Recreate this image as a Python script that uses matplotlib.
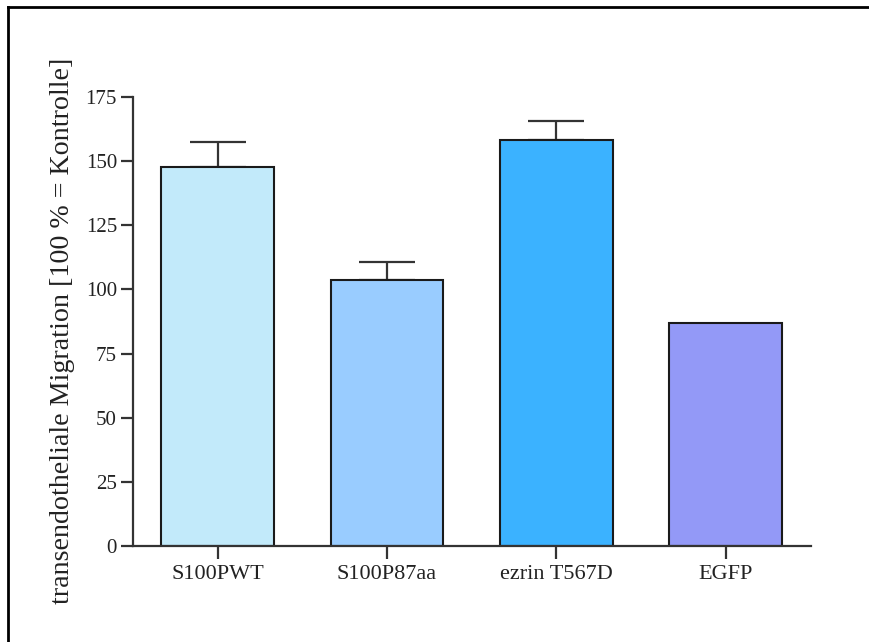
import matplotlib
matplotlib.use("Agg")
import matplotlib.pyplot as plt
from matplotlib.lines import Line2D

categories = ["S100PWT", "S100P87aa", "ezrin T567D", "EGFP"]
values = [147.6, 103.7, 158.2, 87.0]
errors = [9.7, 7.1, 7.5, 0.0]
colors = ["#C2EAFA", "#99CCFF", "#3BB2FF", "#9399F7"]
yticks = [0, 25, 50, 75, 100, 125, 150, 175]
ylabel = "transendotheliale Migration [100 % = Kontrolle]"

plt.rcParams['font.family'] = ['Liberation Serif', 'DejaVu Serif']

fig = plt.figure(figsize=(8.7, 6.42), dpi=100)
ax = fig.add_axes([133/870, 1-546/642, (810.5-133)/870, (546-97)/642])

x = list(range(len(categories)))
ax.bar(x, values, width=0.665, color=colors, edgecolor="#1a1a1a", linewidth=1.5, zorder=2)
for xi, v, e in zip(x, values, errors):
    if e > 0:
        ax.errorbar([xi], [v], yerr=[[0], [e]], fmt="none", ecolor="#333333",
                    elinewidth=1.6, capsize=20.5, capthick=1.6, zorder=1)

ax.set_xlim(-0.5, 3.5)
ax.set_ylim(0, 175)
ax.set_yticks(yticks)
ax.set_xticks(x)
ax.set_xticklabels(categories, fontsize=16, color="#222222")
ax.set_yticklabels([str(t) for t in yticks], fontsize=15, color="#222222")
for s in ["top", "right"]:
    ax.spines[s].set_visible(False)
for s in ["left", "bottom"]:
    ax.spines[s].set_linewidth(1.6)
    ax.spines[s].set_color("#333333")
ax.tick_params(axis="both", direction="out", length=9, width=1.6, color="#333333")
ax.tick_params(axis="y", pad=2.5)
ax.tick_params(axis="x", pad=5)

ax.set_ylabel(ylabel, fontsize=20.2, color="#222222")
ax.yaxis.set_label_coords(-0.085, 0.48)

fig.add_artist(Line2D([8/870, 1.0], [1-7/642, 1-7/642], transform=fig.transFigure, color="black", linewidth=2))
fig.add_artist(Line2D([8/870, 8/870], [0.0, 1-7/642], transform=fig.transFigure, color="black", linewidth=2))

fig.savefig("out.png", dpi=100)
